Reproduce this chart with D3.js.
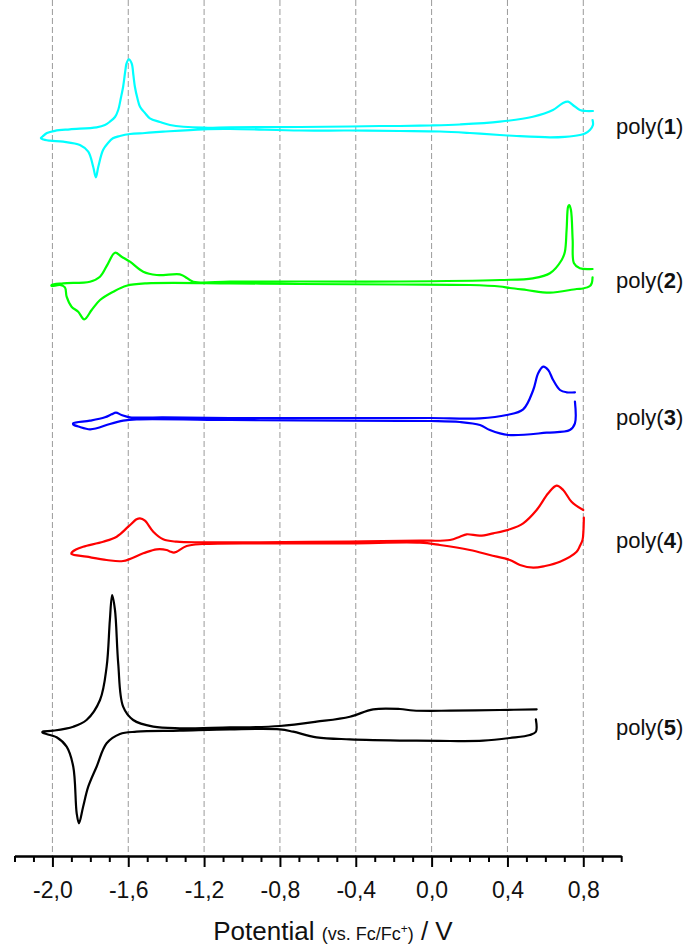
<!DOCTYPE html>
<html>
<head>
<meta charset="utf-8">
<script src="https://cdn.jsdelivr.net/npm/d3@7"></script>
<style>
  body { margin: 0; background: #fff; }
  svg { display: block; }
  text { font-family: "Liberation Sans", Arial, Helvetica, sans-serif; fill: #111; }
</style>
</head>
<body>
<svg id="chart" width="692" height="945"></svg>
<script>
// Potential axis ticks (V vs. Fc/Fc+)
const majorTicks = [-2.0, -1.6, -1.2, -0.8, -0.4, 0.0, 0.4, 0.8];
const majorTickLabels = ["-2,0", "-1,6", "-1,2", "-0,8", "-0,4", "0,0", "0,4", "0,8"];
const minorTicks = [-2.2, -2.1, -1.9, -1.8, -1.7, -1.5, -1.4, -1.3, -1.1, -1.0, -0.9, -0.7, -0.6,
                    -0.5, -0.3, -0.2, -0.1, 0.1, 0.2, 0.3, 0.5, 0.6, 0.7, 0.9, 1.0];

// Polymer films, trace colours and vertical stacking offsets (current, a.u.)
const compounds = ["1", "2", "3", "4", "5"];
const traceColors = ["#00ffff", "#00ff00", "#0000ff", "#ff0000", "#000000"];
const traceOffsets = [72.8, 57.4, 43.7, 31.4, 12.7];

// Cyclic voltammograms: [potential (V), current (a.u.)]
const poly1 = [
  [0.849, 0.8], [0.851, 0.3], [0.835, -0.2], [0.809, -0.55], [0.782, -0.7], [0.703, -0.88], [0.624, -0.93],
  [0.448, -0.8], [0.360, -0.7], [0.202, -0.5], [0.044, -0.35], [-0.167, -0.3], [-0.431, -0.25], [-0.695, -0.25],
  [-1.064, -0.1], [-1.206, -0.13], [-1.417, -0.37], [-1.512, -0.5], [-1.591, -0.6], [-1.644, -0.8], [-1.681, -1.03],
  [-1.707, -1.5], [-1.733, -2.2], [-1.758, -3.87], [-1.771, -4.93], [-1.785, -3.87], [-1.811, -2.37], [-1.855, -1.7],
  [-1.943, -1.37], [-2.013, -1.27], [-2.052, -1.13], [-2.061, -1.0],
  [-2.052, -0.85], [-2.029, -0.5], [-1.987, -0.28], [-1.908, -0.13], [-1.767, 0.07], [-1.723, 0.3], [-1.697, 0.63],
  [-1.670, 1.1], [-1.653, 1.8], [-1.639, 3.0], [-1.627, 4.13], [-1.615, 5.8], [-1.609, 6.47], [-1.597, 6.87],
  [-1.582, 6.47], [-1.573, 5.3], [-1.565, 4.13], [-1.552, 3.0], [-1.538, 2.13], [-1.512, 1.5], [-1.486, 0.97],
  [-1.433, 0.6], [-1.380, 0.3], [-1.205, 0.03], [-1.064, 0.07], [-0.695, 0.1], [-0.431, 0.15], [-0.273, 0.2],
  [-0.167, 0.2], [-0.009, 0.25], [0.149, 0.35], [0.360, 0.63], [0.534, 1.13], [0.640, 1.8], [0.693, 2.5],
  [0.720, 2.63], [0.745, 2.3], [0.782, 1.8], [0.814, 1.7], [0.851, 1.7]
];
const poly2 = [
  [0.849, 0.47], [0.845, -0.1], [0.835, -0.4], [0.798, -0.65], [0.765, -0.7], [0.624, -1.07], [0.501, -0.8],
  [0.413, -0.6], [0.360, -0.45], [0.202, -0.3], [-0.167, -0.25], [-0.695, -0.2], [-1.064, -0.13], [-1.503, -0.13],
  [-1.609, -0.37], [-1.679, -0.97], [-1.749, -1.8], [-1.793, -2.8], [-1.832, -3.73], [-1.864, -2.97],
  [-1.899, -2.47], [-1.925, -1.47], [-1.934, -0.53], [-1.960, -0.3], [-2.004, -0.4],
  [-2.004, -0.3], [-1.943, -0.13], [-1.802, 0.03], [-1.749, 0.53], [-1.706, 1.87], [-1.670, 2.93],
  [-1.635, 2.53], [-1.591, 2.03], [-1.521, 1.03], [-1.450, 0.7], [-1.328, 0.77], [-1.301, 0.53], [-1.257, 0.03],
  [-1.064, 0.03], [-0.695, 0.05], [-0.167, 0.05], [0.360, 0.2], [0.534, 0.37], [0.624, 0.87], [0.686, 2.2],
  [0.703, 3.03], [0.712, 5.2], [0.720, 7.53], [0.726, 7.7], [0.735, 7.2], [0.744, 4.2], [0.751, 1.87],
  [0.782, 1.37], [0.849, 1.3]
];
const poly3 = [
  [0.756, 1.73], [0.756, -0.43], [0.729, -1.1], [0.607, -1.37], [0.404, -1.6], [0.307, -1.1], [0.255, -0.6],
  [0.149, -0.3], [-0.009, -0.2], [-0.695, -0.15], [-1.064, -0.1], [-1.556, -0.03], [-1.627, -0.17],
  [-1.697, -0.5], [-1.767, -0.93], [-1.802, -1.03], [-1.855, -0.8], [-1.890, -0.55],
  [-1.890, -0.43], [-1.802, -0.17], [-1.723, 0.17], [-1.688, 0.47], [-1.665, 0.63], [-1.635, 0.4],
  [-1.591, 0.17], [-1.417, 0.17], [-1.064, 0.1], [-0.431, 0.1], [-0.009, 0.1], [0.255, 0.07], [0.396, 0.4],
  [0.483, 0.97], [0.536, 2.9], [0.562, 4.57], [0.589, 5.23], [0.615, 4.9], [0.641, 3.9], [0.677, 2.9],
  [0.712, 2.67], [0.756, 2.67]
];
const poly4 = [
  [0.803, 2.43], [0.801, 1.2], [0.796, 0.2], [0.782, -0.4], [0.765, -0.97], [0.677, -1.97], [0.598, -2.4],
  [0.536, -2.57], [0.466, -2.3], [0.413, -1.8], [0.307, -1.3], [0.202, -0.8], [0.044, -0.3], [-0.062, -0.07],
  [-0.431, -0.13], [-0.906, -0.13], [-1.205, -0.2], [-1.292, -0.4], [-1.345, -0.97], [-1.359, -1.07],
  [-1.380, -0.95], [-1.398, -0.8], [-1.450, -0.73], [-1.521, -1.13], [-1.627, -1.9], [-1.714, -1.8],
  [-1.820, -1.47], [-1.899, -1.2],
  [-1.899, -1.07], [-1.876, -0.75], [-1.838, -0.47], [-1.732, 0.03], [-1.661, 0.53], [-1.600, 1.53],
  [-1.556, 2.27], [-1.538, 2.37], [-1.512, 2.13], [-1.468, 1.03], [-1.416, 0.27], [-1.345, 0.03],
  [-1.205, -0.03], [-0.906, -0.03], [-0.431, 0.05], [-0.062, 0.13], [0.097, 0.2], [0.149, 0.53], [0.185, 0.77],
  [0.255, 0.63], [0.325, 0.87], [0.413, 1.27], [0.483, 1.87], [0.554, 3.2], [0.615, 4.87], [0.659, 5.63],
  [0.694, 5.2], [0.738, 4.03], [0.800, 3.2]
];
const poly5 = [
  [0.550, 0.97], [0.550, -0.27], [0.518, -0.6], [0.413, -0.9], [0.272, -1.17], [0.097, -1.2], [-0.079, -1.17],
  [-0.431, -1.03], [-0.607, -0.83], [-0.730, -0.27], [-0.800, -0.03], [-1.064, -0.03], [-1.328, -0.17],
  [-1.556, -0.27], [-1.644, -0.5], [-1.714, -1.43], [-1.767, -3.77], [-1.811, -5.77], [-1.838, -7.77],
  [-1.860, -9.43], [-1.872, -8.43], [-1.890, -3.77], [-1.925, -1.77], [-1.978, -0.83], [-2.052, -0.37],
  [-2.052, -0.27], [-1.996, -0.17], [-1.890, 0.23], [-1.820, 0.9], [-1.749, 2.9], [-1.714, 6.23],
  [-1.697, 10.9], [-1.685, 13.4], [-1.670, 11.9], [-1.653, 6.57], [-1.627, 2.23], [-1.574, 0.9],
  [-1.468, 0.23], [-1.328, 0.07], [-1.064, 0.17], [-0.958, 0.17], [-0.800, 0.3], [-0.607, 0.73],
  [-0.431, 1.23], [-0.308, 1.97], [-0.167, 2.0], [-0.097, 1.85], [0.097, 1.83], [0.360, 1.9], [0.554, 1.97]
];
const traces = [poly1, poly2, poly3, poly4, poly5];

const svg = d3.select("#chart");
const axisY = 856;

const x = d3.scaleLinear().domain([-2.2, 1.0]).range([14.5, 621.2]);
const y = d3.scaleLinear().domain([0, 85.6]).range([axisY, 0]);

// Dashed guide lines at the labelled potentials
svg.append("g")
  .selectAll("line")
  .data(majorTicks)
  .join("line")
  .attr("x1", d => x(d)).attr("x2", d => x(d))
  .attr("y1", y(85.6)).attr("y2", axisY)
  .attr("stroke", "#9a9a9a")
  .attr("stroke-width", 1)
  .attr("stroke-dasharray", "6,3");

// Voltammograms
const line = d3.line()
  .x(d => x(d[0]))
  .curve(d3.curveCatmullRom.alpha(0.5));

traces.forEach((trace, k) => {
  svg.append("path")
    .datum(trace)
    .attr("fill", "none")
    .attr("stroke", traceColors[k])
    .attr("stroke-width", 2.2)
    .attr("stroke-linejoin", "round")
    .attr("stroke-linecap", "round")
    .attr("d", line.y(d => y(d[1] + traceOffsets[k])));
});

// Film labels
const labels = svg.append("g");
compounds.forEach((c, k) => {
  const t = labels.append("text")
    .attr("x", 616)
    .attr("y", y(traceOffsets[k]) - 2)
    .attr("dy", "0.35em")
    .attr("font-size", 22);
  t.append("tspan").text("poly(");
  t.append("tspan").attr("font-weight", "bold").text(c);
  t.append("tspan").text(")");
});

// Potential axis: minor ticks, then labelled major ticks
const minorAxis = d3.axisBottom(x).tickValues(minorTicks).tickSize(6).tickSizeOuter(0).tickFormat("");
const majorAxis = d3.axisBottom(x).tickValues(majorTicks).tickSize(11).tickSizeOuter(0).tickPadding(15)
  .tickFormat((d, i) => majorTickLabels[i]);

const gMinor = svg.append("g").attr("transform", `translate(0,${axisY})`).call(minorAxis);
const gMajor = svg.append("g").attr("transform", `translate(0,${axisY})`).call(majorAxis);
[gMinor, gMajor].forEach(g => {
  g.selectAll("path.domain").attr("stroke", "#000").attr("stroke-width", 2.2);
  g.selectAll(".tick line").attr("stroke", "#000").attr("stroke-width", 2);
});
gMajor.selectAll(".tick text")
  .attr("font-size", 23)
  .attr("font-family", "'Liberation Sans', Arial, sans-serif")
  .attr("fill", "#111");

// Axis title
const title = svg.append("text")
  .attr("x", 333)
  .attr("y", 940)
  .attr("text-anchor", "middle")
  .attr("font-size", 26);
title.append("tspan").text("Potential ");
title.append("tspan").attr("font-size", 18).text("(vs. Fc/Fc");
title.append("tspan").attr("font-size", 12).attr("baseline-shift", "super").text("+");
title.append("tspan").attr("font-size", 18).text(")");
title.append("tspan").text(" / V");
</script>
</body>
</html>
